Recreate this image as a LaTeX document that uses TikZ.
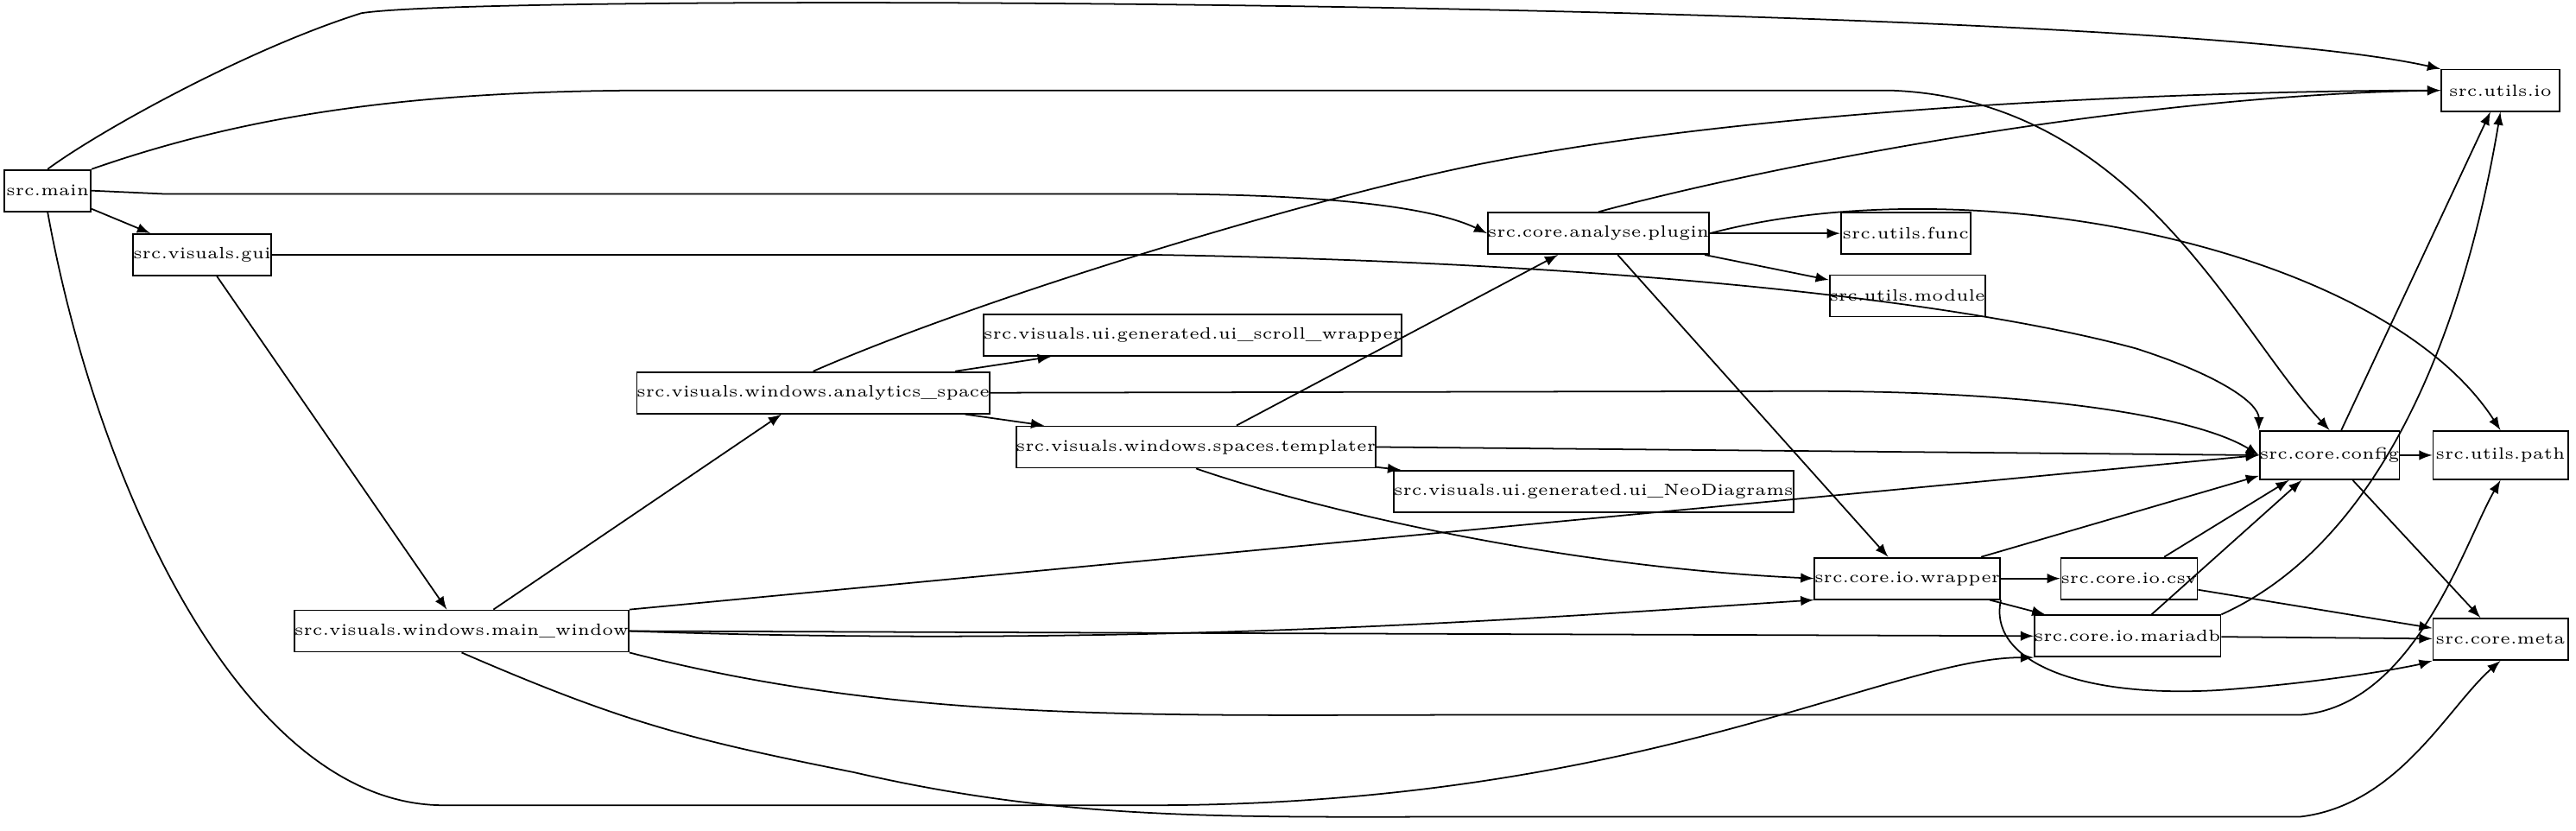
\documentclass[tikz,border=0pt]{standalone}
\begin{document}
\begin{tikzpicture}[x=0.19mm,y=-0.19mm,
 n/.style={draw,rectangle,inner sep=0pt,minimum height=4.8mm,line width=0.5pt,font=\fontsize{5.4}{6}\selectfont},
 e/.style={-latex,line width=0.5pt}]
\useasboundingbox (0,0) rectangle (1568,505.6);
\node[n,minimum width=10mm] (main) at (29,116) {src.main};
\node[n,minimum width=15.6mm] (gui) at (123,155) {src.visuals.gui};
\node[n,minimum width=13.7mm] (io) at (1522,55) {src.utils.io};
\node[n,minimum width=24.3mm] (plug) at (973,142) {src.core.analyse.plugin};
\node[n,minimum width=15mm] (func) at (1160,142) {src.utils.func};
\node[n,minimum width=17.5mm] (mod) at (1161,180) {src.utils.module};
\node[n,minimum width=42.2mm] (scroll) at (726,204) {src.visuals.ui.generated.ui\_scroll\_wrapper};
\node[n,minimum width=36.9mm] (ana) at (495,239) {src.visuals.windows.analytics\_space};
\node[n,minimum width=38.6mm] (tmp) at (728,272) {src.visuals.windows.spaces.templater};
\node[n,minimum width=15.6mm,minimum height=5.6mm] (cfg) at (1418,277) {src.core.config};
\node[n,minimum width=15.6mm,minimum height=5.6mm] (path) at (1522,277) {src.utils.path};
\node[n,minimum width=42.6mm] (neo) at (970,299) {src.visuals.ui.generated.ui\_NeoDiagrams};
\node[n,minimum width=20.3mm] (wrap) at (1161,352) {src.core.io.wrapper};
\node[n,minimum width=15.4mm] (csv) at (1296,352) {src.core.io.csv};
\node[n,minimum width=34.8mm] (mw) at (281,384) {src.visuals.windows.main\_window};
\node[n,minimum width=20.7mm] (maria) at (1295,387) {src.core.io.mariadb};
\node[n,minimum width=15.6mm] (meta) at (1522,389) {src.core.meta};

\draw[e] (main.north) .. controls (60,80) and (150,30) .. (220,8) .. controls (300,-5) and (1300,0) .. (io.north west);
\draw[e] (main.north east) .. controls (150,70) and (250,55) .. (400,55) -- (1150,55) .. controls (1300,60) and (1360,200) .. (cfg.north);
\draw[e] (main.east) -- (100,118) -- (700,118) .. controls (800,118) and (870,125) .. (plug.west);
\draw[e] (main) -- (gui);
\draw[e] (main.south) .. controls (60,300) and (150,490) .. (270,490) -- (700,490) .. controls (1000,490) and (1150,400) .. (maria.south west);
\draw[e] (gui.east) -- (700,155) .. controls (1000,160) and (1200,185) .. (1300,212) .. controls (1350,228) and (1375,245) .. (cfg.north west);
\draw[e] (gui) -- (mw);
\draw[e] (ana.north) .. controls (600,180) and (800,120) .. (900,100) .. controls (1100,60) and (1400,55) .. (io.west);
\draw[e] (ana) -- (scroll);
\draw[e] (ana.east) -- (1100,238) .. controls (1250,238) and (1340,255) .. (cfg.west);
\draw[e] (ana) -- (tmp);
\draw[e] (plug.north) .. controls (1080,100) and (1300,58) .. (io.west);
\draw[e] (plug) -- (func);
\draw[e] (plug) -- (mod);
\draw[e] (plug.east) .. controls (1200,100) and (1450,150) .. (path.north);
\draw[e] (plug) -- (wrap);
\draw[e] (tmp) -- (plug);
\draw[e] (tmp.east) -- (cfg.west);
\draw[e] (tmp) -- (neo);
\draw[e] (tmp.south) .. controls (800,310) and (950,345) .. (wrap.west);
\draw[e] (mw) -- (ana);
\draw[e] (mw.north east) -- (cfg.west);
\draw[e] (mw.east) .. controls (700,395) and (950,375) .. (wrap.south west);
\draw[e] (mw.east) -- (maria.west);
\draw[e] (mw.south east) .. controls (550,440) and (700,435) .. (900,435) -- (1400,435) .. controls (1470,430) and (1500,330) .. (path.south);
\draw[e] (mw.south) .. controls (380,440) and (420,450) .. (520,470) .. controls (650,500) and (750,497) .. (900,497) -- (1400,497) .. controls (1460,490) and (1490,430) .. (meta.south);
\draw[e] (wrap) -- (cfg);
\draw[e] (wrap) -- (csv);
\draw[e] (wrap) -- (maria);
\draw[e] (wrap.south east) .. controls (1210,400) and (1260,425) .. (1350,420) .. controls (1420,415) and (1470,405) .. (meta.south west);
\draw[e] (csv) -- (cfg);
\draw[e] (csv) -- (meta);
\draw[e] (maria) -- (cfg);
\draw[e] (maria.north east) .. controls (1450,330) and (1500,200) .. (io.south);
\draw[e] (maria) -- (meta);
\draw[e] (cfg) -- (io);
\draw[e] (cfg) -- (path);
\draw[e] (cfg) -- (meta);
\end{tikzpicture}
\end{document}
